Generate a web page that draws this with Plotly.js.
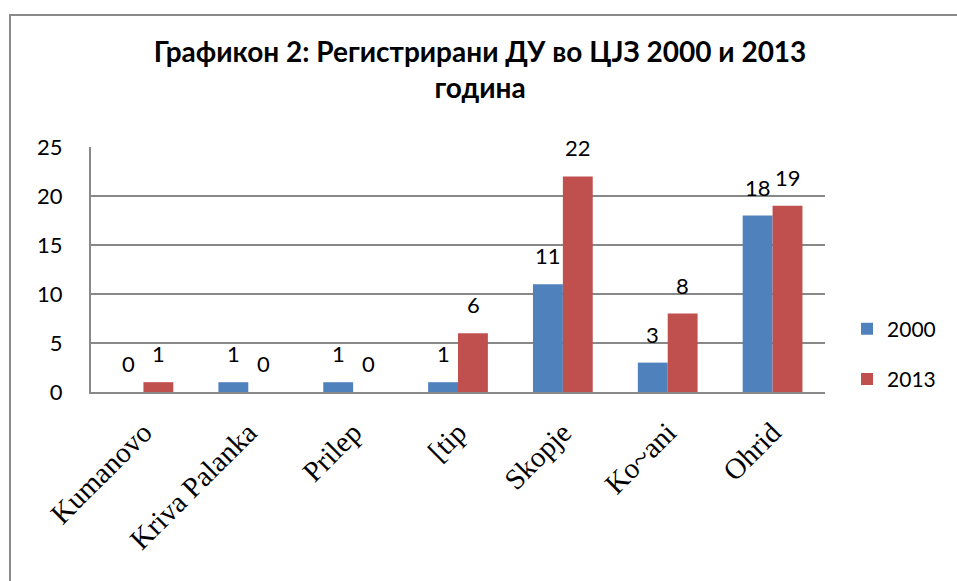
<!DOCTYPE html>
<html>
<head>
<meta charset="utf-8">
<script src="https://cdn.plot.ly/plotly-3.0.1.min.js"></script>
<style>
  html, body { margin: 0; padding: 0; background: #fff; overflow: hidden; }
  #chart { position: absolute; left: 0; top: 0; width: 957px; height: 581px; }
  #frame { position: absolute; left: 9px; top: 14px; width: 2000px; height: 2000px;
           border-left: 2px solid #8a8a8a; border-top: 2px solid #8a8a8a; pointer-events: none; }
</style>
</head>
<body>
<div id="chart"></div>
<div id="frame"></div>
<script>
const categories = ["Kumanovo", "Kriva Palanka", "Prilep", "[tip", "Skopje", "Ko~ani", "Ohrid"];
const values2000 = [0, 1, 1, 1, 11, 3, 18];
const values2013 = [1, 0, 0, 6, 22, 8, 19];
const seriesNames = ["2000", "2013"];
const yTicks = [0, 5, 10, 15, 20, 25];
const titleText = "Графикон 2: Регистрирани ДУ во ЦЈЗ 2000 и 2013<br>година";

const blue = "#4F81BD", red = "#C0504D";
const labelFont = { family: "Lato, 'Noto Sans', sans-serif", size: 22, color: "#000" };

const traces = [
  { type: "bar", name: seriesNames[0], x: categories, y: values2000,
    marker: { color: blue }, legendgroup: "a", hoverinfo: "none" },
  { type: "bar", name: seriesNames[1], x: categories, y: values2013,
    marker: { color: red }, legendgroup: "b", hoverinfo: "none" }
];

const annotations = [];
[[values2000, -15], [values2013, 15]].forEach(([vals, dx]) => {
  vals.forEach((v, i) => {
    annotations.push({ x: categories[i], y: v, xref: "x", yref: "y", text: String(v),
      showarrow: false, xshift: dx, yshift: 13, yanchor: "bottom", font: labelFont });
  });
});

const layout = {
  width: 957, height: 581,
  margin: { l: 91, r: 132, t: 147, b: 189 },
  paper_bgcolor: "rgba(0,0,0,0)", plot_bgcolor: "#fff",
  title: { text: titleText, x: 0.53, xref: "paper", xanchor: "center", y: 0.894, yanchor: "middle",
    font: { family: "Lato, 'Noto Sans', sans-serif", size: 28, color: "#000", weight: "bold" } },
  barmode: "group", bargap: 0.43, bargroupgap: 0,
  showlegend: true,
  legend: { x: 1.03, xanchor: "left", y: 0.155, yanchor: "middle",
    font: { family: "Lato, 'Noto Sans', sans-serif", size: 21, color: "#000" },
    traceorder: "grouped", tracegroupgap: 20, itemclick: false },
  xaxis: { type: "category", showgrid: false, showline: true, linecolor: "#888", linewidth: 2,
    tickangle: -45, ticks: "", ticklabelstandoff: 10,
    tickfont: { family: "'Liberation Serif', serif", size: 29, color: "#000" } },
  yaxis: { range: [0, 25], tickvals: yTicks, showgrid: true, gridcolor: "#888", gridwidth: 1.5,
    showline: true, linecolor: "#888", linewidth: 2, zeroline: false, ticks: "", ticklabelstandoff: 22,
    tickfont: labelFont },
  annotations: annotations
};

Plotly.newPlot("chart", traces, layout, { staticPlot: true });
</script>
</body>
</html>
